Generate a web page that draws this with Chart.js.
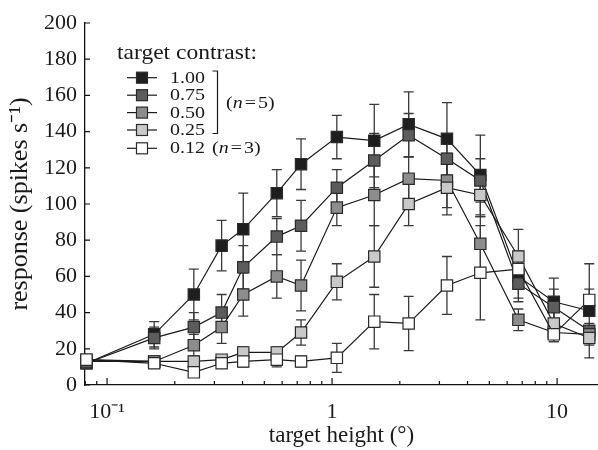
<!DOCTYPE html>
<html><head><meta charset="utf-8">
<script src="https://cdn.jsdelivr.net/npm/chart.js@4"></script>
<style>html,body{margin:0;padding:0;background:#fff;}canvas{display:block;}</style>
</head><body>
<canvas id="c" width="598" height="450"></canvas>
<script>
// ---- data ----
const targetHeights = [0.081, 0.162, 0.243, 0.323, 0.403, 0.568, 0.728, 1.05, 1.54, 2.19, 3.24, 4.56, 6.73, 9.67, 13.9];
const contrastLabels = ['1.00', '0.75', '0.50', '0.25', '0.12'];
const resp100 = [12, 28, 50, 77, 86, 106, 122, 137, 135, 144, 136, 116, 60, 46, 41];
const resp075 = [12, 26, 32, 40, 65, 82, 88, 109, 124, 138, 125, 113, 56, 43, 30];
const resp050 = [13, 13, 22, 32, 50, 60, 55, 98, 105, 114, 113, 78, 36, 29, 28];
const resp025 = [14, 13, 13, 14, 18, 18, 29, 57, 71, 100, 109, 105, 71, 34, 26];
const resp012 = [14, 12, 7, 12, 13, 14, 13, 15, 35, 34, 55, 62, 64, 28, 47];
const err100 = [2, 7, 14, 14, 20, 13, 14, 12, 20, 18, 20, 22, 12, 13, 26];
const err075 = [2, 6, 8, 10, 12, 10, 14, 10, 15, 12, 12, 12, 10, 10, 4];
const err050 = [2, 3, 6, 9, 12, 12, 14, 10, 17, 12, 15, 15, 6, 5, 4];
const err025 = [2, 2, 3, 2, 3, 3, 7, 10, 17, 12, 15, 12, 15, 8, 4];
const err012 = [2, 2, 2, 2, 3, 4, 3, 8, 15, 15, 16, 26, 10, 4, 6];
const yTickValues = [0, 20, 40, 60, 80, 100, 120, 140, 160, 180, 200];
const xTickValues = [0.08, 0.09, 0.1, 0.2, 0.3, 0.4, 0.5, 0.6, 0.7, 0.8, 0.9, 1, 2, 3, 4, 5, 6, 7, 8, 9, 10];
const xMajorTicks = [0.1, 1, 10];
const xMajorLabels = ['10\u207B\u00B9', '1', '10'];

const fills = ['#1e1e1e', '#5c5c5c', '#8d8d8d', '#c9c9c9', '#ffffff'];
const FONT = '"Liberation Serif", "Times New Roman", Times, serif';

function mk(vals, errs, i) {
  return {
    label: contrastLabels[i],
    data: vals.map((v, j) => ({x: targetHeights[j], y: v})),
    errors: errs,
    borderColor: '#1a1a1a', borderWidth: 1.2,
    backgroundColor: fills[i],
    pointStyle: 'rect', pointRadius: 8, pointHoverRadius: 8,
    pointBackgroundColor: fills[i], pointBorderColor: '#2a2a2a', pointBorderWidth: 1.2,
    tension: 0, clip: false, order: 5 - i
  };
}

const errPlugin = {
  id: 'errbars',
  beforeDatasetsDraw(chart) {
    const {ctx, scales: {x, y}} = chart;
    ctx.save();
    ctx.strokeStyle = '#3a3a3a'; ctx.lineWidth = 1.3;
    chart.data.datasets.forEach(ds => {
      ds.data.forEach((p, j) => {
        const e = ds.errors[j];
        const px = x.getPixelForValue(p.x);
        const yt = y.getPixelForValue(p.y + e), yb = y.getPixelForValue(p.y - e);
        ctx.beginPath();
        ctx.moveTo(px, yt); ctx.lineTo(px, yb);
        ctx.moveTo(px - 5, yt); ctx.lineTo(px + 5, yt);
        ctx.moveTo(px - 5, yb); ctx.lineTo(px + 5, yb);
        ctx.stroke();
      });
    });
    ctx.restore();
  }
};

const tickPlugin = {
  id: 'inticks',
  afterDraw(chart) {
    const {ctx, scales: {x, y}, chartArea: a} = chart;
    ctx.save(); ctx.strokeStyle = '#111'; ctx.lineWidth = 1.2;
    ctx.beginPath();
    yTickValues.forEach(v => { const py = y.getPixelForValue(v); ctx.moveTo(a.left, py); ctx.lineTo(a.left + 5, py); });
    xTickValues.forEach(v => {
      const px = x.getPixelForValue(v);
      const major = xMajorTicks.includes(v);
      ctx.moveTo(px, a.bottom); ctx.lineTo(px, a.bottom - (major ? 7 : 4));
    });
    ctx.stroke(); ctx.restore();
  }
};

function sText(ctx, t, x, y, font, sx) {
  ctx.save(); ctx.font = font; ctx.translate(x, y); ctx.scale(sx, 1); ctx.fillText(t, 0, 0);
  const w = ctx.measureText(t).width * sx; ctx.restore(); return w;
}

const legendPlugin = {
  id: 'customLegend',
  afterDraw(chart) {
    const ctx = chart.ctx;
    ctx.save();
    ctx.fillStyle = '#1a1a1a'; ctx.textBaseline = 'alphabetic';
    sText(ctx, 'target contrast:', 117, 59, '21px ' + FONT, 1.12);
    const rows = [77.7, 95.2, 112.6, 130, 148.3];
    chart.data.datasets.forEach((ds, i) => {
      const cy = rows[i];
      ctx.strokeStyle = '#1a1a1a'; ctx.lineWidth = 1.2;
      ctx.beginPath(); ctx.moveTo(127, cy); ctx.lineTo(157, cy); ctx.stroke();
      ctx.fillStyle = ds.pointBackgroundColor; ctx.fillRect(136.5, cy - 5.5, 11, 11);
      ctx.strokeStyle = '#2a2a2a'; ctx.strokeRect(136.5, cy - 5.5, 11, 11);
      ctx.fillStyle = '#1a1a1a';
      sText(ctx, ds.label, 170, cy + 5, '16px ' + FONT, 1.25);
    });
    ctx.strokeStyle = '#1a1a1a'; ctx.lineWidth = 1.2;
    ctx.beginPath(); ctx.moveTo(212.5, 71); ctx.lineTo(217.5, 71); ctx.lineTo(217.5, 133.5); ctx.lineTo(212.5, 133.5); ctx.stroke();
    function nText(x0, y0, num) {
      let x = x0;
      x += sText(ctx, '(', x, y0, '16px ' + FONT, 1.25);
      x += sText(ctx, 'n', x, y0, 'italic 16px ' + FONT, 1.25) + 2;
      x += sText(ctx, '=', x, y0, '16px ' + FONT, 1.25) + 2;
      sText(ctx, num + ')', x, y0, '16px ' + FONT, 1.25);
    }
    nText(226, 108, '5');
    nText(212, rows[4] + 5, '3');
    ctx.restore();
  }
};

function build() {
  new Chart(document.getElementById('c'), {
    type: 'line',
    data: {
      datasets: [
        mk(resp100, err100, 0), mk(resp075, err075, 1), mk(resp050, err050, 2),
        mk(resp025, err025, 3), mk(resp012, err012, 4)
      ]
    },
    options: {
      responsive: false, animation: false, devicePixelRatio: 1,
      layout: {autoPadding: false, padding: {top: 23, right: 0, left: 0, bottom: 0}},
      plugins: {legend: {display: false}, tooltip: {enabled: false}},
      scales: {
        x: {
          type: 'logarithmic', position: 'bottom', min: 0.0798, max: 15.2,
          afterBuildTicks: s => { s.ticks = xTickValues.map(v => ({value: v})); },
          afterFit: s => { s.height = 65; },
          grid: {drawOnChartArea: false, drawTicks: false},
          border: {display: true, color: '#111', width: 1.3},
          ticks: {
            autoSkip: false, maxRotation: 0, padding: 14, color: '#1a1a1a',
            font: {family: FONT, size: 22},
            callback: v => { const k = xMajorTicks.findIndex(m => Math.abs(m - v) < 1e-9); return k >= 0 ? xMajorLabels[k] : ''; }
          },
          title: {display: true, text: 'target height (\u00B0)', color: '#1a1a1a', font: {family: FONT, size: 23}, padding: {top: 0, bottom: 0}}
        },
        y: {
          min: 0, max: 200,
          afterBuildTicks: s => { s.ticks = yTickValues.map(v => ({value: v})); },
          afterFit: s => { s.width = 85; },
          grid: {drawOnChartArea: false, drawTicks: false},
          border: {display: true, color: '#111', width: 1.3},
          ticks: {padding: 8, color: '#1a1a1a', font: {family: FONT, size: 22}},
          title: {display: true, text: 'response (spikes s\u207B\u00B9)', color: '#1a1a1a', font: {family: FONT, size: 26}, padding: {top: 5, bottom: 0}}
        }
      }
    },
    plugins: [errPlugin, tickPlugin, legendPlugin]
  });
}
const fl = ['22px "Liberation Serif"', 'italic 16px "Liberation Serif"'];
Promise.all(fl.map(f => document.fonts.load(f))).then(build, build);
</script>
</body></html>
